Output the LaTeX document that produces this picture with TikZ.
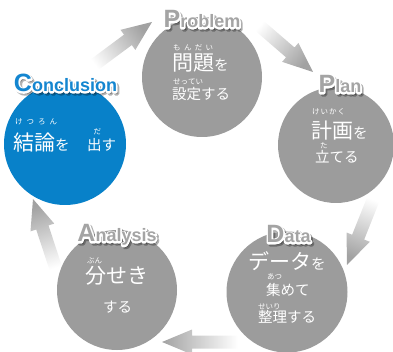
\documentclass[tikz,border=0pt]{standalone}
\usepackage{fontspec}
\newfontfamily\jp{Noto Sans CJK JP}
\newfontfamily\lblfont{Liberation Sans}
\usetikzlibrary{calc}
\definecolor{cgray}{HTML}{9C9C9C}
\definecolor{cblue}{HTML}{0881C9}
\definecolor{lgray}{HTML}{A4A4A4}
\definecolor{lblue}{HTML}{1486D0}
\definecolor{agray}{HTML}{A2A2A2}
\newcommand\Bg{\fontsize{21}{22}\selectfont}
\newcommand\Sm{\fontsize{14.5}{15}\selectfont}
\newcommand\Rb{\fontsize{7.5}{8}\selectfont}
\newcommand\rubyw[2]{\makebox[#1pt][s]{\Rb #2}}
\newcommand\lbltxt[2]{{\fontsize{25}{25}\selectfont #1}{\fontsize{18}{18}\selectfont #2}}
\newcommand\strk[2]{\special{pdf:literal #1 RG #2 w 1 j 2 Tr}}
\newcommand\unstrk{\special{pdf:literal 0 Tr}}
\newcommand\mklabel[5]{% name, x, y, colour, content
  \node[lbl, text=black, opacity=0.3] (#1s) at (#2+1.8, #3+1.8) {\strk{0 0 0}{3.4}#5\unstrk};
  \node[lbl, text=white] (#1o) at (#2,#3) {\strk{1 1 1}{3.2}#5\unstrk};
  \node[lbl, text=#4] (#1) at (#2,#3) {#5};
}
\newcommand\blk[3]{% tail, tip, shading angle
  \coordinate (#1#2h) at ($(#2)!30pt!(#1)$);
  \shade[top color=agray, bottom color=white, shading angle=#3]
    ($(#1)!6.5pt!90:(#2)$) -- ($(#1#2h)!6.5pt!90:(#2)$) -- ($(#1#2h)!12.5pt!90:(#2)$)
    -- (#2) -- ($(#1#2h)!12.5pt!-90:(#2)$) -- ($(#1#2h)!6.5pt!-90:(#2)$)
    -- ($(#1)!6.5pt!-90:(#2)$) -- cycle;
}
\begin{document}
\begin{tikzpicture}[x=1pt,y=-1pt,
  lbl/.style={inner sep=0pt, anchor=base, font=\lblfont\bfseries},
  jt/.style={inner sep=0pt, anchor=west, font=\jp, text=white},
  jr/.style={inner sep=0pt, anchor=west, font=\jp, text=white},
  bub/.style={circle, inner sep=0pt, fill=cgray}]
\useasboundingbox (0,0) rectangle (393,352);
% arrows
\coordinate (a1t) at (90,68);   \coordinate (a1h) at (152,22);
\coordinate (a2t) at (255,22);  \coordinate (a2h) at (313,72);
\coordinate (a3t) at (375,195); \coordinate (a3h) at (347,265);
\coordinate (a4t) at (238,342); \coordinate (a4h) at (162,342);
\coordinate (a5t) at (57,272);  \coordinate (a5h) at (33,199);
\blk{a1t}{a1h}{-53.4}
\blk{a2t}{a2h}{-130.8}
\blk{a3t}{a3h}{158.2}
\blk{a4t}{a4h}{90}
\blk{a5t}{a5h}{18.2}
% circles
\node[bub, minimum size=120pt] (prob) at (202,77) {};
\node[bub, minimum size=116pt] (plan) at (336,145) {};
\node[bub, minimum size=121pt] (data) at (287,292) {};
\node[bub, minimum size=120pt] (anal) at (117,290) {};
\node[bub, fill=cblue, minimum size=122pt] (conc) at (65,144) {};
% labels
\mklabel{lprob}{202}{28}{lgray}{\lbltxt{P}{roblem}}
\mklabel{lplan}{340}{93}{lgray}{\lbltxt{P}{lan}}
\mklabel{lconc}{65.5}{92}{lblue}{\lbltxt{C}{onclusion}}
\mklabel{lanal}{117}{242}{lgray}{\lbltxt{A}{nalysis}}
\mklabel{ldata}{288.5}{243}{lgray}{\lbltxt{D}{ata}}
% Problem text
\node[jr] (pr1) at (173,48) {\rubyw{40}{も\hfill ん\hfill だ\hfill い}};
\node[jt] (pt1) at (172,63) {\Bg 問題\Sm を};
\node[jr] (pr2) at (173,82) {\rubyw{22}{せ\hfill っ\hfill て\hfill い}};
\node[jt] (pt2) at (172,94) {\Sm 設定する};
% Plan text
\node[jr] (lr1) at (312,112) {\rubyw{33}{け\hfill い\hfill か\hfill く}};
\node[jt] (lt1) at (311,131) {\Bg 計画\Sm を};
\node[jr] (lr2) at (320,146) {\Rb た};
\node[jt] (lt2) at (315,157) {\Sm 立てる};
% Conclusion text
\node[jr] (cr1) at (15,122) {\rubyw{42}{け\hfill つ\hfill ろ\hfill ん}};
\node[jt] (ct1) at (13,143) {\Bg 結論\Sm を};
\node[jr] (cr2) at (93.5,132) {\Rb だ};
\node[jt] (ct2) at (87,145) {\Sm 出す};
% Analysis text
\node[jr] (ar1) at (87,261) {\rubyw{15}{ぶ\hfill ん}};
\node[jt] (at1) at (85,276) {\Bg 分せき};
\node[jt] (at2) at (103,307) {\Sm する};
% Data text
\node[jt] (dt1) at (248,261) {\Bg データ\Sm を};
\node[jr] (dr1) at (267,277) {\rubyw{11}{あ\hfill つ}};
\node[jt] (dt2) at (266,290) {\Sm 集めて};
\node[jr] (dr2) at (258,307) {\rubyw{17}{せ\hfill い\hfill り}};
\node[jt] (dt3) at (258,317) {\Sm 整理する};
\end{tikzpicture}
\end{document}
